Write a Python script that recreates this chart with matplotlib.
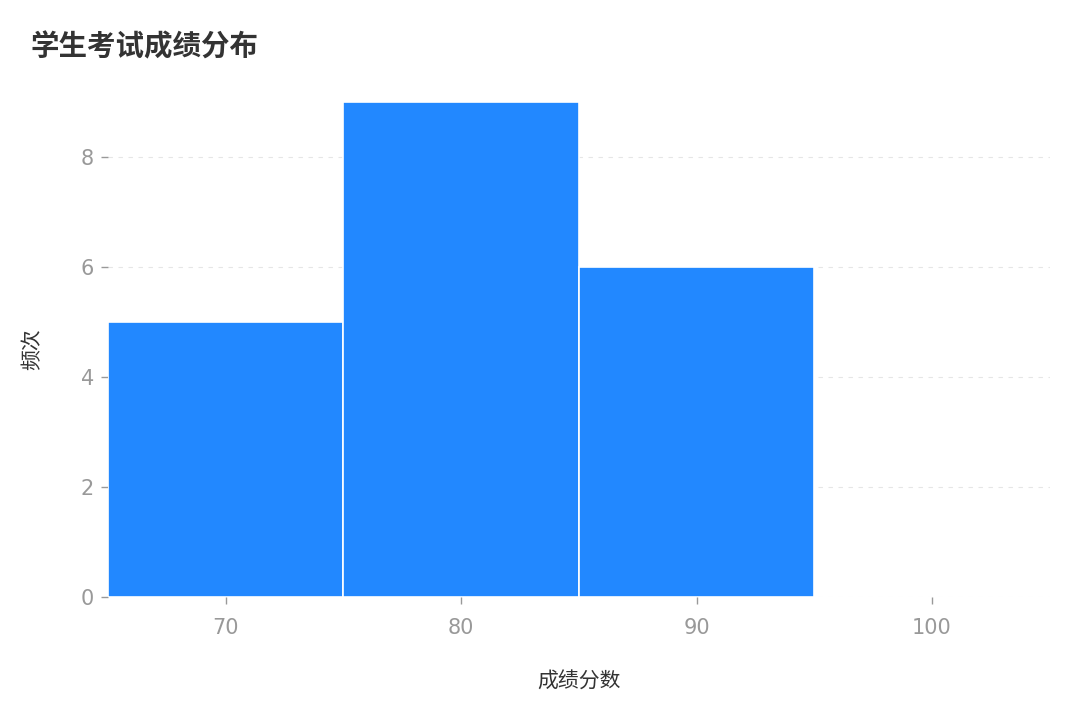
import numpy as np
import matplotlib.pyplot as plt

plt.rcParams['font.family'] = ['DejaVu Sans', 'Noto Sans CJK SC']

# histogram bins and counts
bin_edges = [65, 75, 85, 95, 105]
counts = [5, 9, 6, 0]
x_ticks = [70, 80, 90, 100]
y_ticks = [0, 2, 4, 6, 8]

fig = plt.figure(figsize=(10.8, 7.2), dpi=100)
ax = fig.add_axes([0.1, 0.171, 0.872, 0.687])

centers = np.array(bin_edges[:-1]) + np.diff(bin_edges) / 2
ax.hist(centers, bins=bin_edges, weights=counts, color='#2288ff',
        edgecolor='white', linewidth=1.2, zorder=2)

ax.set_xlim(65, 105)
ax.set_ylim(0, 9)
ax.set_xticks(x_ticks)
ax.set_yticks(y_ticks)
ax.grid(axis='y', color='#e6e6e6', linestyle=(0, (4, 5)), linewidth=0.8, zorder=0)
for s in ax.spines.values():
    s.set_visible(False)
ax.tick_params(colors='#999999', labelsize=15, length=5, width=1, pad=5)
ax.tick_params(axis='x', pad=10)

cjk = ['Noto Sans CJK SC', 'DejaVu Sans']
ax.set_xlabel('成绩分数', fontsize=15, color='#333333', labelpad=24, family=cjk)
ax.set_ylabel('频次', fontsize=15, color='#333333', labelpad=27, family=cjk)
fig.text(0.028, 0.935, '学生考试成绩分布', fontsize=20.5, fontweight='bold',
         color='#333333', va='center', family=cjk)

fig.savefig('out.png', dpi=100)
